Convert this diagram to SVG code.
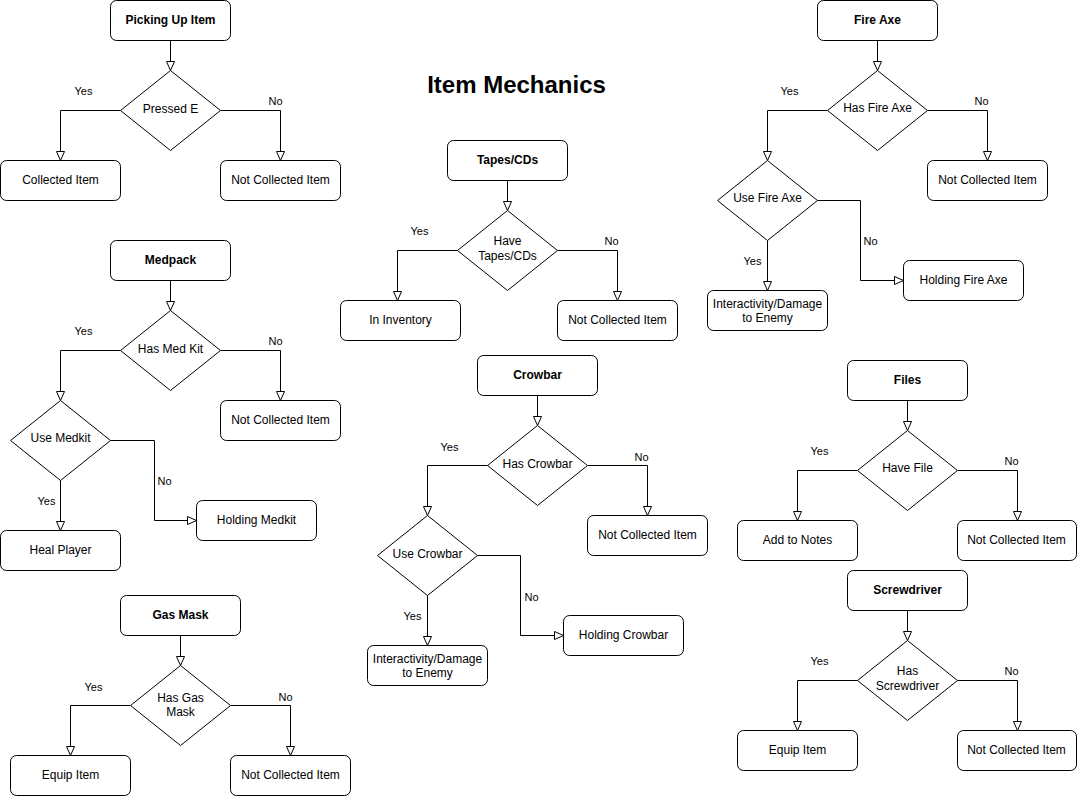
<svg xmlns="http://www.w3.org/2000/svg" width="1077" height="796" viewBox="0 0 1077 796">
<style>
.b{fill:#fff;stroke:#000;stroke-width:1}
.d{fill:#fff;stroke:#000;stroke-width:1}
.t{font-family:"Liberation Sans",Arial,sans-serif;font-size:12px;fill:#000;text-anchor:middle;dominant-baseline:central}
.tb{font-weight:bold}
.l{font-family:"Liberation Sans",Arial,sans-serif;font-size:11px;fill:#000;text-anchor:middle;dominant-baseline:central}
.e{fill:none;stroke:#000;stroke-width:1;marker-end:url(#arr)}
.title{font-family:"Liberation Sans",Arial,sans-serif;font-size:24px;font-weight:bold;fill:#000;text-anchor:middle;dominant-baseline:central}
</style>
<defs>
<marker id="arr" viewBox="0 0 10 9" refX="9.5" refY="4.5" markerWidth="10" markerHeight="9" markerUnits="userSpaceOnUse" orient="auto">
<path d="M0.5,0.5 L9.5,4.5 L0.5,8.5 Z" fill="#fff" stroke="#000" stroke-width="1"/>
</marker>
</defs>
<rect width="1077" height="796" fill="#fff"/>
<g transform="translate(0.5,0.5)">
<text class="title" x="516" y="84">Item Mechanics</text>

<g id="connectors">
<path class="e" d="M170,40 V70"/>
<path class="e" d="M120,110 H60 V160"/>
<path class="e" d="M220,110 H280 V160"/>
<path class="e" d="M170,280 V310"/>
<path class="e" d="M120,350 H60 V400"/>
<path class="e" d="M220,350 H280 V400"/>
<path class="e" d="M60,480 V530"/>
<path class="e" d="M110,440 H154 V520 H196"/>
<path class="e" d="M180,635 V665"/>
<path class="e" d="M130,705 H70 V755"/>
<path class="e" d="M230,705 H290 V755"/>
<path class="e" d="M507,180 V210"/>
<path class="e" d="M457,250 H397 V300"/>
<path class="e" d="M557,250 H617 V300"/>
<path class="e" d="M537,395 V425"/>
<path class="e" d="M487,465 H427 V515"/>
<path class="e" d="M587,465 H647 V515"/>
<path class="e" d="M427,595 V645"/>
<path class="e" d="M477,555 H520 V635 H563"/>
<path class="e" d="M877,40 V70"/>
<path class="e" d="M827,110 H767 V160"/>
<path class="e" d="M927,110 H987 V160"/>
<path class="e" d="M767,240 V290"/>
<path class="e" d="M817,200 H860 V280 H903"/>
<path class="e" d="M907,400 V430"/>
<path class="e" d="M857,470 H797 V520"/>
<path class="e" d="M957,470 H1017 V520"/>
<path class="e" d="M907,610 V640"/>
<path class="e" d="M857,680 H797 V730"/>
<path class="e" d="M957,680 H1017 V730"/>
<text class="l" x="83" y="90">Yes</text>
<text class="l" x="275" y="100">No</text>
<text class="l" x="83" y="330">Yes</text>
<text class="l" x="275" y="340">No</text>
<text class="l" x="46" y="500">Yes</text>
<text class="l" x="164" y="480">No</text>
<text class="l" x="93" y="686">Yes</text>
<text class="l" x="285" y="696">No</text>
<text class="l" x="419" y="230">Yes</text>
<text class="l" x="611" y="240">No</text>
<text class="l" x="449" y="446">Yes</text>
<text class="l" x="641" y="456">No</text>
<text class="l" x="412" y="615">Yes</text>
<text class="l" x="531" y="596">No</text>
<text class="l" x="789" y="90">Yes</text>
<text class="l" x="981" y="100">No</text>
<text class="l" x="752" y="260">Yes</text>
<text class="l" x="870" y="240">No</text>
<text class="l" x="819" y="450">Yes</text>
<text class="l" x="1011" y="460">No</text>
<text class="l" x="819" y="660">Yes</text>
<text class="l" x="1011" y="670">No</text>
</g>

<g id="picking-up-item">
<rect class="b" x="110" y="0" width="120" height="40" rx="6"/>
<text class="t tb" x="170" y="19">Picking Up Item</text>
</g>
<g id="pressed-e">
<path class="d" d="M170,70 L220,110 L170,150 L120,110 Z"/>
<text class="t" x="170" y="108">Pressed E</text>
</g>
<g id="collected-item">
<rect class="b" x="0" y="160" width="120" height="40" rx="6"/>
<text class="t" x="60" y="179">Collected Item</text>
</g>
<g id="not-collected-1">
<rect class="b" x="220" y="160" width="120" height="40" rx="6"/>
<text class="t" x="280" y="179">Not Collected Item</text>
</g>

<g id="medpack">
<rect class="b" x="110" y="240" width="120" height="40" rx="6"/>
<text class="t tb" x="170" y="259">Medpack</text>
</g>
<g id="has-med-kit">
<path class="d" d="M170,310 L220,350 L170,390 L120,350 Z"/>
<text class="t" x="170" y="348">Has Med Kit</text>
</g>
<g id="use-medkit">
<path class="d" d="M60,400 L110,440 L60,480 L10,440 Z"/>
<text class="t" x="60" y="437">Use Medkit</text>
</g>
<g id="not-collected-2">
<rect class="b" x="220" y="400" width="120" height="40" rx="6"/>
<text class="t" x="280" y="419">Not Collected Item</text>
</g>
<g id="heal-player">
<rect class="b" x="0" y="530" width="120" height="40" rx="6"/>
<text class="t" x="60" y="549">Heal Player</text>
</g>
<g id="holding-medkit">
<rect class="b" x="196" y="500" width="120" height="40" rx="6"/>
<text class="t" x="256" y="519">Holding Medkit</text>
</g>

<g id="gas-mask">
<rect class="b" x="120" y="595" width="120" height="40" rx="6"/>
<text class="t tb" x="180" y="614">Gas Mask</text>
</g>
<g id="has-gas-mask">
<path class="d" d="M180,665 L230,705 L180,745 L130,705 Z"/>
<text class="t" x="180" y="697">Has Gas</text>
<text class="t" x="180" y="711">Mask</text>
</g>
<g id="equip-item-1">
<rect class="b" x="10" y="755" width="120" height="40" rx="6"/>
<text class="t" x="70" y="774">Equip Item</text>
</g>
<g id="not-collected-3">
<rect class="b" x="230" y="755" width="120" height="40" rx="6"/>
<text class="t" x="290" y="774">Not Collected Item</text>
</g>

<g id="tapes-cds">
<rect class="b" x="447" y="140" width="120" height="40" rx="6"/>
<text class="t tb" x="507" y="159">Tapes/CDs</text>
</g>
<g id="have-tapes">
<path class="d" d="M507,210 L557,250 L507,290 L457,250 Z"/>
<text class="t" x="507" y="240">Have</text>
<text class="t" x="507" y="255">Tapes/CDs</text>
</g>
<g id="in-inventory">
<rect class="b" x="340" y="300" width="120" height="40" rx="6"/>
<text class="t" x="400" y="319">In Inventory</text>
</g>
<g id="not-collected-4">
<rect class="b" x="557" y="300" width="120" height="40" rx="6"/>
<text class="t" x="617" y="319">Not Collected Item</text>
</g>

<g id="crowbar">
<rect class="b" x="477" y="355" width="120" height="40" rx="6"/>
<text class="t tb" x="537" y="374">Crowbar</text>
</g>
<g id="has-crowbar">
<path class="d" d="M537,425 L587,465 L537,505 L487,465 Z"/>
<text class="t" x="537" y="463">Has Crowbar</text>
</g>
<g id="use-crowbar">
<path class="d" d="M427,515 L477,555 L427,595 L377,555 Z"/>
<text class="t" x="427" y="553">Use Crowbar</text>
</g>
<g id="not-collected-5">
<rect class="b" x="587" y="515" width="120" height="40" rx="6"/>
<text class="t" x="647" y="534">Not Collected Item</text>
</g>
<g id="interactivity-1">
<rect class="b" x="367" y="645" width="120" height="40" rx="6"/>
<text class="t" x="427" y="658">Interactivity/Damage</text>
<text class="t" x="427" y="672">to Enemy</text>
</g>
<g id="holding-crowbar">
<rect class="b" x="563" y="615" width="120" height="40" rx="6"/>
<text class="t" x="623" y="634">Holding Crowbar</text>
</g>

<g id="fire-axe">
<rect class="b" x="817" y="0" width="120" height="40" rx="6"/>
<text class="t tb" x="877" y="19">Fire Axe</text>
</g>
<g id="has-fire-axe">
<path class="d" d="M877,70 L927,110 L877,150 L827,110 Z"/>
<text class="t" x="877" y="107">Has Fire Axe</text>
</g>
<g id="use-fire-axe">
<path class="d" d="M767,160 L817,200 L767,240 L717,200 Z"/>
<text class="t" x="767" y="197">Use Fire Axe</text>
</g>
<g id="not-collected-6">
<rect class="b" x="927" y="160" width="120" height="40" rx="6"/>
<text class="t" x="987" y="179">Not Collected Item</text>
</g>
<g id="interactivity-2">
<rect class="b" x="707" y="290" width="120" height="40" rx="6"/>
<text class="t" x="767" y="303">Interactivity/Damage</text>
<text class="t" x="767" y="317">to Enemy</text>
</g>
<g id="holding-fire-axe">
<rect class="b" x="903" y="260" width="120" height="40" rx="6"/>
<text class="t" x="963" y="279">Holding Fire Axe</text>
</g>

<g id="files">
<rect class="b" x="847" y="360" width="120" height="40" rx="6"/>
<text class="t tb" x="907" y="379">Files</text>
</g>
<g id="have-file">
<path class="d" d="M907,430 L957,470 L907,510 L857,470 Z"/>
<text class="t" x="907" y="467">Have File</text>
</g>
<g id="add-to-notes">
<rect class="b" x="737" y="520" width="120" height="40" rx="6"/>
<text class="t" x="797" y="539">Add to Notes</text>
</g>
<g id="not-collected-7">
<rect class="b" x="957" y="520" width="119" height="40" rx="6"/>
<text class="t" x="1016" y="539">Not Collected Item</text>
</g>

<g id="screwdriver">
<rect class="b" x="847" y="570" width="120" height="40" rx="6"/>
<text class="t tb" x="907" y="589">Screwdriver</text>
</g>
<g id="has-screwdriver">
<path class="d" d="M907,640 L957,680 L907,720 L857,680 Z"/>
<text class="t" x="907" y="670">Has</text>
<text class="t" x="907" y="685">Screwdriver</text>
</g>
<g id="equip-item-2">
<rect class="b" x="737" y="730" width="120" height="40" rx="6"/>
<text class="t" x="797" y="749">Equip Item</text>
</g>
<g id="not-collected-8">
<rect class="b" x="957" y="730" width="119" height="40" rx="6"/>
<text class="t" x="1016" y="749">Not Collected Item</text>
</g>
</g>
</svg>
